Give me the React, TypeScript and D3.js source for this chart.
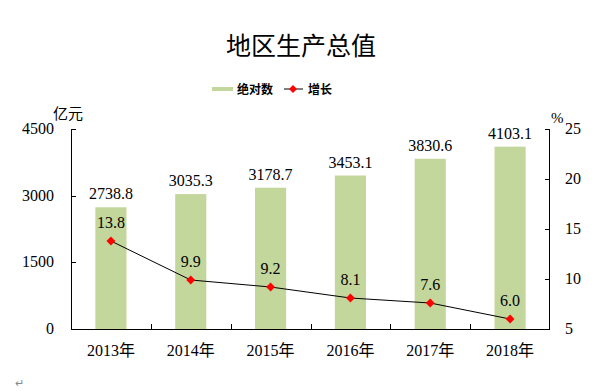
import React, { useEffect, useRef } from 'react';
import * as d3 from 'd3';

const years = ['2013年', '2014年', '2015年', '2016年', '2017年', '2018年'];
const totals = [2738.8, 3035.3, 3178.7, 3453.1, 3830.6, 4103.1];
const growth = [13.8, 9.9, 9.2, 8.1, 7.6, 6.0];
const leftTicks = [0, 1500, 3000, 4500];
const rightTicks = [5, 10, 15, 20, 25];

const serif = '"Liberation Serif", "Noto Sans CJK SC", serif';

const App = () => {
    const svgRef = useRef<SVGSVGElement>(null);

    useEffect(() => {
        const svg = d3.select(svgRef.current);
        svg.selectAll('*').remove();

        const width = 600;
        const height = 391;
        const margin = { top: 129, right: 50, bottom: 62, left: 71 };

        const x = d3
            .scaleBand()
            .domain(years)
            .range([margin.left, width - margin.right])
            .paddingInner(0.61)
            .paddingOuter(0.305);

        const yL = d3.scaleLinear().domain([0, 4500]).range([height - margin.bottom, margin.top]);
        const yR = d3.scaleLinear().domain([5, 25]).range([height - margin.bottom, margin.top]);

        const step = (width - margin.left - margin.right) / years.length;
        const cx = (d: string) => x(d)! + x.bandwidth() / 2;

        // title
        svg.append('text')
            .attr('x', 301).attr('y', 55)
            .attr('text-anchor', 'middle')
            .attr('font-family', serif)
            .attr('font-size', 25)
            .text('地区生产总值');

        // legend
        const lg = svg.append('g').attr('font-family', '"Noto Sans CJK SC", sans-serif')
            .attr('font-size', 12).attr('font-weight', 'bold');
        lg.append('rect').attr('x', 212).attr('y', 87).attr('width', 21).attr('height', 4).attr('fill', '#c3d69b');
        lg.append('text').attr('x', 237).attr('y', 94).text('绝对数');
        lg.append('line').attr('x1', 284).attr('x2', 303).attr('y1', 89).attr('y2', 89)
            .attr('stroke', '#000').attr('stroke-width', 1);
        lg.append('path').attr('d', d3.symbol(d3.symbolDiamond2, 40)()!)
            .attr('transform', 'translate(293,89)').attr('fill', '#ff0000');
        lg.append('text').attr('x', 308).attr('y', 94).text('增长');

        // bars
        svg.append('g')
            .selectAll('rect')
            .data(totals)
            .join('rect')
            .attr('x', (d, i) => x(years[i])!)
            .attr('y', d => yL(d))
            .attr('width', x.bandwidth())
            .attr('height', d => yL(0) - yL(d))
            .attr('fill', '#c3d69b');

        svg.append('g')
            .attr('font-family', serif).attr('font-size', 16).attr('text-anchor', 'middle')
            .selectAll('text')
            .data(totals)
            .join('text')
            .attr('x', (d, i) => cx(years[i]))
            .attr('y', d => yL(d) - 8)
            .text(d => d.toFixed(1));

        // axes
        const axes = svg.append('g').attr('stroke', '#000').attr('stroke-width', 1);
        const x0 = margin.left, x1 = width - margin.right, yb = height - margin.bottom;
        axes.append('line').attr('x1', x0 + 0.5).attr('x2', x0 + 0.5).attr('y1', margin.top).attr('y2', yb);
        axes.append('line').attr('x1', x1 - 0.5).attr('x2', x1 - 0.5).attr('y1', margin.top).attr('y2', yb);
        axes.append('line').attr('x1', x0).attr('x2', x1).attr('y1', yb + 0.5).attr('y2', yb + 0.5);

        axes.selectAll('.tl').data(leftTicks).join('line')
            .attr('x1', x0).attr('x2', x0 + 5)
            .attr('y1', d => Math.round(yL(d)) + 0.5).attr('y2', d => Math.round(yL(d)) + 0.5);
        axes.selectAll('.tr').data(rightTicks).join('line')
            .attr('x1', x1 - 5).attr('x2', x1)
            .attr('y1', d => Math.round(yR(d)) + 0.5).attr('y2', d => Math.round(yR(d)) + 0.5);
        axes.selectAll('.tx').data(years.slice(1)).join('line')
            .attr('x1', (d, i) => Math.round(x0 + step * (i + 1)) + 0.5)
            .attr('x2', (d, i) => Math.round(x0 + step * (i + 1)) + 0.5)
            .attr('y1', yb - 5).attr('y2', yb);

        const labels = svg.append('g').attr('font-family', serif).attr('font-size', 16);
        labels.selectAll('.ll').data(leftTicks).join('text')
            .attr('x', 54).attr('y', d => yL(d) + 5)
            .attr('text-anchor', 'end')
            .text(d => d);
        labels.selectAll('.lr').data(rightTicks).join('text')
            .attr('x', 565).attr('y', d => yR(d) + 5)
            .text(d => d);
        labels.selectAll('.lx').data(years).join('text')
            .attr('x', d => cx(d)).attr('y', 356)
            .attr('text-anchor', 'middle')
            .text(d => d);

        labels.append('text').attr('x', 53).attr('y', 119).attr('font-size', 15).text('亿元');
        labels.append('text').attr('x', 551).attr('y', 123).attr('font-size', 15).text('%');

        // growth line
        const line = d3.line<number>()
            .x((d, i) => cx(years[i]))
            .y(d => yR(d));
        svg.append('path')
            .datum(growth)
            .attr('d', line)
            .attr('fill', 'none')
            .attr('stroke', '#000')
            .attr('stroke-width', 1);

        svg.append('g')
            .selectAll('path')
            .data(growth)
            .join('path')
            .attr('d', d3.symbol(d3.symbolDiamond2, 50)()!)
            .attr('transform', (d, i) => `translate(${cx(years[i])},${yR(d)})`)
            .attr('fill', '#ff0000');

        svg.append('g')
            .attr('font-family', serif).attr('font-size', 16).attr('text-anchor', 'middle')
            .selectAll('text')
            .data(growth)
            .join('text')
            .attr('x', (d, i) => cx(years[i]))
            .attr('y', d => yR(d) - 13)
            .text(d => d.toFixed(1));

        svg.append('text').attr('x', 15).attr('y', 387)
            .attr('font-size', 11).attr('fill', '#888').text('↵');
    }, []);

    return (
        <svg ref={svgRef} width={600} height={391}
            style={{ position: 'absolute', left: 0, top: 0, background: '#fff' }} />
    );
};

export default App;
